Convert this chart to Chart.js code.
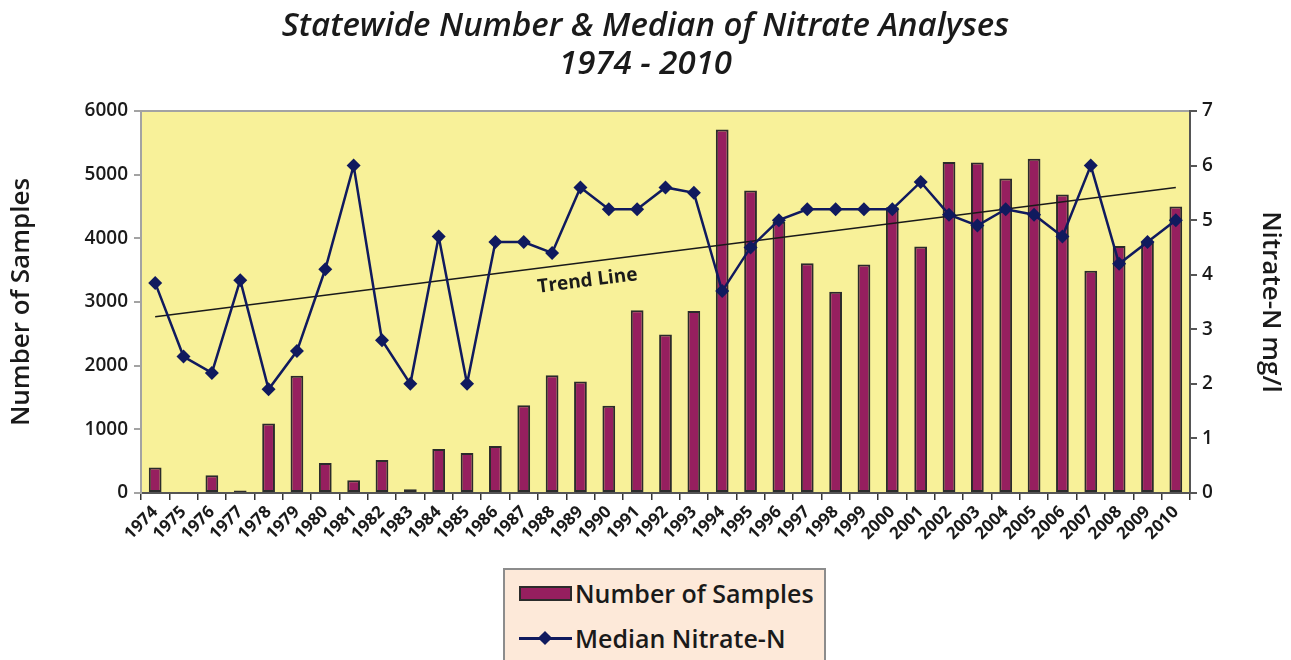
<!DOCTYPE html>
<html>
<head>
<meta charset="utf-8">
<script src="https://cdn.jsdelivr.net/npm/chart.js@4.4.1/dist/chart.umd.min.js"></script>
<style>
    html, body { margin: 0; padding: 0; background: #fff; }
    #wrap { position: relative; width: 1291px; height: 660px; overflow: hidden; }
    #chart { position: absolute; left: 0; top: 0; }
    .title {
        position: absolute; left: 0; width: 1291px; text-align: center;
        font-family: "Open Sans", sans-serif; font-style: italic; font-weight: 600;
        font-size: 33px; line-height: 38px; color: #1a1a1a;
    }
    #legend {
        position: absolute; left: 503px; top: 568px; width: 323px; height: 120px;
        background: #fde9d9; border: 2px solid #8c8c8c; box-sizing: border-box;
    }
    .item { position: absolute; left: 14px; height: 30px; display: flex; align-items: center; }
    .item span.txt {
        font-family: "Open Sans", sans-serif; font-weight: 600; font-size: 25px;
        color: #1a1a1a; margin-left: 3px; white-space: nowrap;
    }
    .swatch { width: 49px; height: 11px; border: 2px solid #2b2b2b; }
    .lineKey { position: relative; width: 53px; height: 14px; }
    .lineKey .ln { position: absolute; left: 0; top: 6px; width: 53px; height: 2.5px; }
    .lineKey .dm { position: absolute; left: 21px; top: 2px; width: 10px; height: 10px; transform: rotate(45deg); }
</style>
</head>
<body>
<div id="wrap">
    <canvas id="chart" width="1291" height="660"></canvas>
    <div class="title" id="t1" style="top:5px"></div>
    <div class="title" id="t2" style="top:43px"></div>
    <div id="legend"></div>
</div>
<script>
const titleLines = ["Statewide Number & Median of Nitrate Analyses", "1974 - 2010"];

const years = ["1974","1975","1976","1977","1978","1979","1980","1981","1982","1983",
    "1984","1985","1986","1987","1988","1989","1990","1991","1992","1993",
    "1994","1995","1996","1997","1998","1999","2000","2001","2002","2003",
    "2004","2005","2006","2007","2008","2009","2010"];

// number of samples (left axis)
const samples = [400, 10, 280, 40, 1090, 1840, 470, 200, 520, 60,
    690, 630, 740, 1380, 1850, 1750, 1370, 2870, 2490, 2860,
    5710, 4750, 4260, 3610, 3160, 3590, 4490, 3870, 5200, 5190,
    4940, 5250, 4690, 3490, 3880, 3950, 4500];

// median nitrate-N mg/l (right axis)
const medianN = [3.85, 2.5, 2.2, 3.9, 1.9, 2.6, 4.1, 6.0, 2.8, 2.0,
    4.7, 2.0, 4.6, 4.6, 4.4, 5.6, 5.2, 5.2, 5.6, 5.5,
    3.7, 4.5, 5.0, 5.2, 5.2, 5.2, 5.2, 5.7, 5.1, 4.9,
    5.2, 5.1, 4.7, 6.0, 4.2, 4.6, 5.0];

// trend line end points
const trendStart = 3.23;
const trendEnd = 5.60;

const leftTicks = [0, 1000, 2000, 3000, 4000, 5000, 6000];
const rightTicks = [0, 1, 2, 3, 4, 5, 6, 7];

const seriesNames = ["Number of Samples", "Median Nitrate-N", "Trend Line"];
const axisTitles = ["Number of Samples", "Nitrate-N mg/l"];

const barColor = "#961f5f";
const lineColor = "#101a5e";
const plotBg = "#f8f199";
const ink = "#1a1a1a";

const trendData = years.map((y, i) => i === 0 ? trendStart : (i === years.length - 1 ? trendEnd : null));

document.getElementById("t1").textContent = titleLines[0];
document.getElementById("t2").textContent = titleLines[1];

/* plot background, top frame line and the trend label */
const framePlugin = {
    id: "frame",
    beforeDraw(chart) {
        const a = chart.chartArea, ctx = chart.ctx;
        ctx.save();
        ctx.fillStyle = plotBg;
        ctx.fillRect(a.left, a.top, a.right - a.left, a.bottom - a.top);
        ctx.strokeStyle = "#a3a3a3";
        ctx.lineWidth = 2;
        ctx.beginPath();
        ctx.moveTo(a.left, a.top);
        ctx.lineTo(a.right, a.top);
        ctx.stroke();
        ctx.restore();
    },
    afterDatasetsDraw(chart) {
        const x = chart.scales.x, y1 = chart.scales.y1, ctx = chart.ctx;
        const x0 = x.getPixelForValue(0), xN = x.getPixelForValue(years.length - 1);
        const yA = y1.getPixelForValue(trendStart), yB = y1.getPixelForValue(trendEnd);
        const ang = Math.atan2(yB - yA, xN - x0);
        const px = x.getPixelForValue(15.25);
        const py = yA + (yB - yA) * (px - x0) / (xN - x0) + 19;
        ctx.save();
        ctx.translate(px, py);
        ctx.rotate(ang);
        ctx.font = "700 19px 'Open Sans'";
        ctx.fillStyle = ink;
        ctx.textAlign = "center";
        ctx.textBaseline = "middle";
        ctx.fillText(seriesNames[2], 0, 0);
        ctx.restore();
    }
};

const tickFont = { family: "Open Sans", size: 19, weight: "600" };

const chart = new Chart(document.getElementById("chart"), {
    data: {
        labels: years,
        datasets: [
            {
                type: "line",
                label: seriesNames[1],
                data: medianN,
                yAxisID: "y1",
                borderColor: lineColor,
                backgroundColor: lineColor,
                borderWidth: 2.5,
                pointStyle: "rectRot",
                pointRadius: 7,
                pointBorderWidth: 0,
                tension: 0,
                order: 1
            },
            {
                type: "line",
                label: seriesNames[2],
                data: trendData,
                yAxisID: "y1",
                spanGaps: true,
                borderColor: ink,
                borderWidth: 1.5,
                pointRadius: 0,
                order: 2
            },
            {
                type: "bar",
                label: seriesNames[0],
                data: samples,
                yAxisID: "y",
                backgroundColor: barColor,
                borderColor: "#2b2b2b",
                borderWidth: 2,
                borderSkipped: false,
                barPercentage: 0.45,
                categoryPercentage: 1,
                order: 3
            }
        ]
    },
    options: {
        responsive: false,
        animation: false,
        devicePixelRatio: 1,
        layout: { padding: { left: 0, right: 0, top: 111, bottom: 107 } },
        plugins: {
            legend: { display: false },
            title: { display: false },
            tooltip: { enabled: false }
        },
        scales: {
            x: {
                offset: true,
                grid: { offset: true, drawOnChartArea: false, drawTicks: true, tickLength: 7, tickColor: "#333", lineWidth: 1.5 },
                border: { color: "#555", width: 2 },
                ticks: {
                    autoSkip: false, maxRotation: 45, minRotation: 45, padding: 2,
                    color: ink, font: { family: "Open Sans", size: 17, weight: "700" }
                },
                afterFit(s) { s.height = 60; }
            },
            y: {
                position: "left",
                min: 0, max: 6000,
                afterBuildTicks(s) { s.ticks = leftTicks.map(v => ({ value: v })); },
                grid: { drawOnChartArea: false, drawTicks: true, tickLength: 7, tickColor: "#a3a3a3", lineWidth: 2 },
                border: { color: "#a3a3a3", width: 2 },
                ticks: { color: ink, font: tickFont, padding: 6, callback: v => String(v) },
                title: {
                    display: true, text: axisTitles[0], color: ink,
                    font: { family: "Open Sans", size: 26, weight: "600" },
                    padding: { top: 6, bottom: 0 }
                },
                afterFit(s) { s.width = 141; }
            },
            y1: {
                position: "right",
                min: 0, max: 7,
                afterBuildTicks(s) { s.ticks = rightTicks.map(v => ({ value: v })); },
                grid: { drawOnChartArea: false, drawTicks: true, tickLength: 7, tickColor: "#555", lineWidth: 2 },
                border: { color: "#555", width: 2 },
                ticks: { color: ink, font: tickFont, padding: 5, callback: v => String(v) },
                title: {
                    display: true, text: axisTitles[1], color: ink,
                    font: { family: "Open Sans", size: 26, weight: "600" },
                    padding: { top: 5, bottom: 0 }
                },
                afterFit(s) { s.width = 101; }
            }
        }
    },
    plugins: [framePlugin]
});

/* html legend built from the bar and median datasets */
const legend = document.getElementById("legend");
[
    { name: seriesNames[0], kind: "bar", top: 8 },
    { name: seriesNames[1], kind: "line", top: 53 }
].forEach(it => {
    const row = document.createElement("div");
    row.className = "item";
    row.style.top = it.top + "px";
    let key;
    if (it.kind === "bar") {
        key = document.createElement("div");
        key.className = "swatch";
        key.style.background = barColor;
    } else {
        key = document.createElement("div");
        key.className = "lineKey";
        key.innerHTML = '<div class="ln"></div><div class="dm"></div>';
        key.querySelector(".ln").style.background = lineColor;
        key.querySelector(".dm").style.background = lineColor;
    }
    const txt = document.createElement("span");
    txt.className = "txt";
    txt.textContent = it.name;
    row.appendChild(key);
    row.appendChild(txt);
    legend.appendChild(row);
});
</script>
</body>
</html>
